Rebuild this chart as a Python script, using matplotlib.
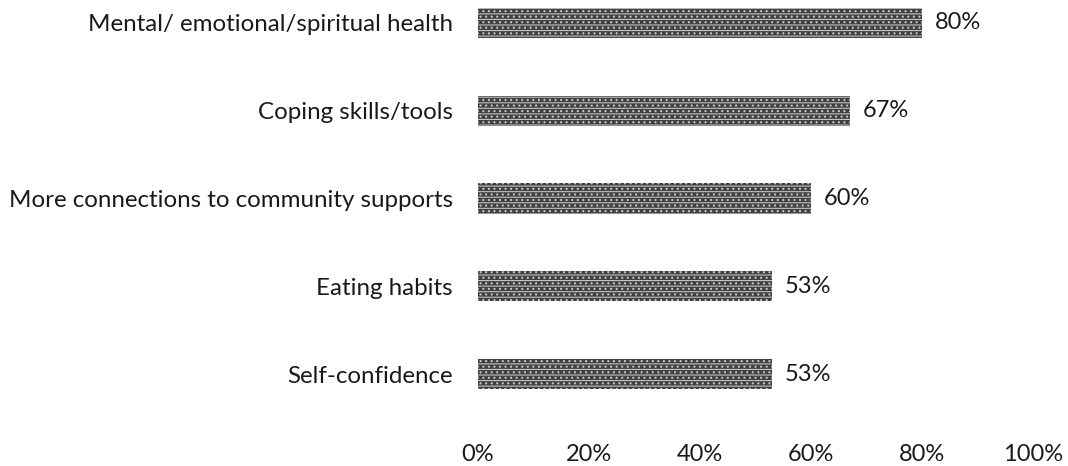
import matplotlib.pyplot as plt
import numpy as np

plt.rcParams['font.family'] = ['Lato', 'DejaVu Sans']
plt.rcParams['hatch.linewidth'] = 0.8

categories = ['Mental/ emotional/spiritual health',
              'Coping skills/tools',
              'More connections to community supports',
              'Eating habits',
              'Self-confidence']
values = [80, 67, 60, 53, 53]
ticks = [0, 20, 40, 60, 80, 100]
tick_labels = ['0%', '20%', '40%', '60%', '80%', '100%']

fig = plt.figure(figsize=(10.68, 4.66), dpi=100)
ax = fig.add_axes([478 / 1068, 1 - 420 / 466, (1033 - 478) / 1068, 420 / 466])

y = np.arange(len(categories))
bars = ax.barh(y, values, height=0.342, color='#404040',
               edgecolor='#c4c4c4', linewidth=0, hatch='---...')

for b, v in zip(bars, values):
    ax.text(b.get_width() + 2.3, b.get_y() + b.get_height() / 2, str(v) + '%',
            va='center', ha='left', fontsize=17, color='#1a1a1a')

ax.set_xlim(0, 100)
ax.set_ylim(4.524, -0.262)
ax.set_yticks(y)
ax.set_yticklabels(categories, fontsize=17.4, color='#1a1a1a')
ax.set_xticks(ticks)
ax.set_xticklabels(tick_labels, fontsize=17, color='#1a1a1a')
ax.tick_params(axis='both', length=0)
ax.tick_params(axis='y', pad=18)
ax.tick_params(axis='x', pad=17)
for s in ax.spines.values():
    s.set_visible(False)

plt.savefig('out.png', dpi=100)
